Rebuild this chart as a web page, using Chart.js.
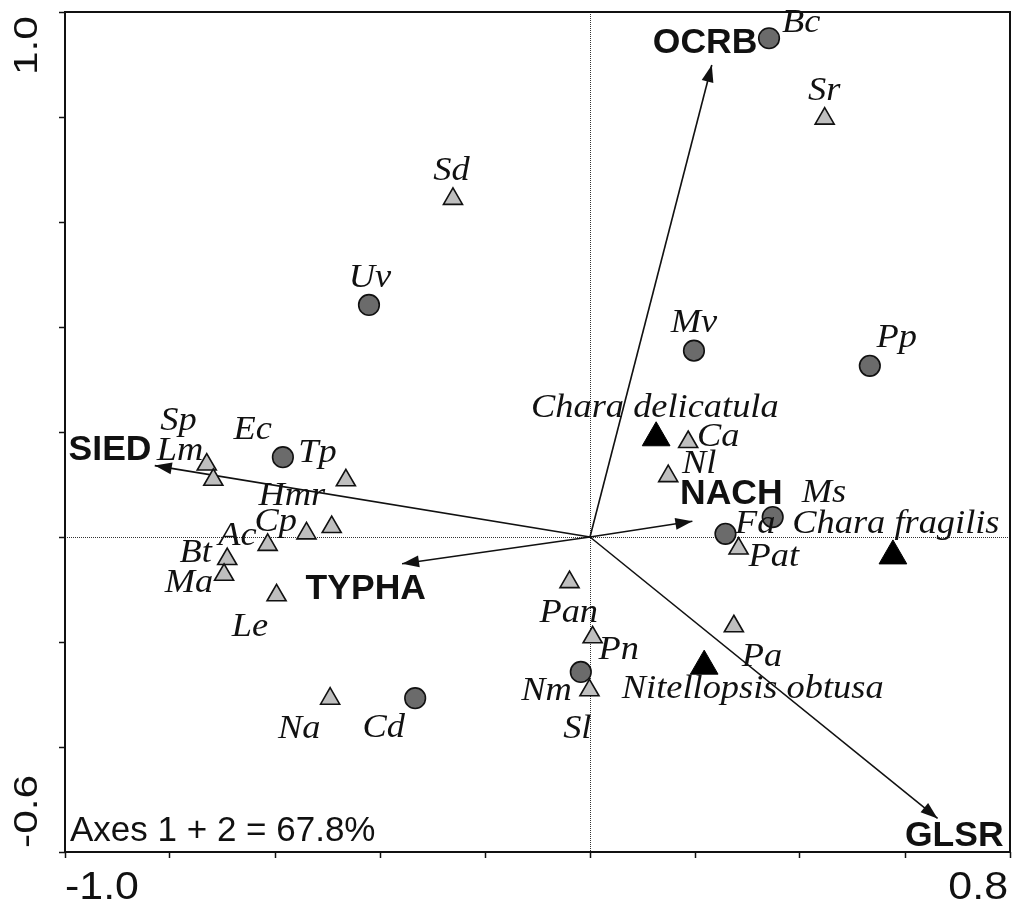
<!DOCTYPE html>
<html>
<head>
<meta charset="utf-8">
<script src="https://cdn.jsdelivr.net/npm/chart.js@4.4.1/dist/chart.umd.min.js"></script>
<style>
  html, body { margin: 0; padding: 0; background: #fff; }
  #wrap { width: 1012px; height: 904px; position: relative; }
</style>
</head>
<body>
<div id="wrap"><canvas id="biplot"></canvas></div>
<script>
// ---- Axis extent and tick labels ----
const xRange = [-1.0, 0.8];
const yRange = [-0.6, 1.0];
const tickStep = 0.2;
const xTickLabels = ['-1.0', '0.8'];
const yTickLabels = ['-0.6', '1.0'];
const varianceNote = 'Axes 1 + 2 = 67.8%';

// ---- Environmental variables (arrow tips from the origin) ----
const envNames = ['OCRB', 'SIED', 'TYPHA', 'NACH', 'GLSR'];
const envX = [0.232, -0.829, -0.358, 0.195, 0.662];
const envY = [0.899, 0.136, -0.051, 0.030, -0.536];

// ---- Species drawn as dark circles ----
const circleNames = ['Bc', 'Uv', 'Mv', 'Pp', 'Ec', 'Fa', 'Ms', 'Cd', 'Nm'];
const circleX = [0.341, -0.421, 0.198, 0.533, -0.585, 0.258, 0.348, -0.333, -0.0175];
const circleY = [0.950, 0.442, 0.355, 0.326, 0.152, 0.006, 0.038, -0.307, -0.257];

// ---- Species drawn as grey triangles ----
const triNames = ['Sr', 'Sd', 'Ca', 'Nl', 'Sp', 'Lm', 'Tp', 'Cp', 'Hmr', 'Ac', 'Bt', 'Ma', 'Le', 'Na', 'Pan', 'Pn', 'Sl', 'Pa', 'Pat'];
const triX = [0.447, -0.261, 0.187, 0.149, -0.730, -0.7175, -0.465, -0.540, -0.492, -0.614, -0.691, -0.697, -0.597, -0.495, -0.039, 0.005, -0.001, 0.274, 0.283];
const triY = [0.797, 0.644, 0.181, 0.116, 0.138, 0.109, 0.108, 0.007, 0.019, -0.015, -0.042, -0.072, -0.111, -0.308, -0.086, -0.191, -0.292, -0.170, -0.022];

// ---- Characean species drawn as black triangles ----
const charaNames = ['Chara delicatula', 'Chara fragilis', 'Nitellopsis obtusa'];
const charaX = [0.126, 0.577, 0.2175];
const charaY = [0.189, -0.036, -0.246];

// Label placement relative to each mark: [dx px, baseline dy px, alignment]
const labelPlacement = {
  Bc: [13, -6.3, 'left'], Uv: [1, -18.3, 'center'], Mv: [0, -18.8, 'center'],
  Pp: [6.7, -19.1, 'left'], Ec: [-11, -17.9, 'right'], Fa: [9.5, -0.5, 'left'],
  Ms: [29, -15, 'left'], Cd: [-10.2, 39, 'right'], Nm: [-9.1, 27.8, 'right'],
  Sr: [-0.5, -18.5, 'center'], Sd: [-1.5, -18.8, 'center'], Ca: [8.7, 3.7, 'left'],
  Nl: [13.7, -3.5, 'left'], Sp: [-10, -34.5, 'right'], Lm: [-10, -19.8, 'right'],
  Tp: [-9.3, -18.8, 'right'], Cp: [-9.6, -2.2, 'right'], Hmr: [-6.5, -22.2, 'right'],
  Ac: [-11.1, 0.2, 'right'], Bt: [-15.3, 2.9, 'right'], Ma: [-10.9, 16.9, 'right'],
  Le: [-26.7, 41.2, 'center'], Na: [-31, 39.5, 'center'], Pan: [-0.8, 39.5, 'center'],
  Pn: [5.8, 22.1, 'left'], Sl: [2, 47.8, 'right'], Pa: [7.9, 40.2, 'left'],
  Pat: [10, 17.9, 'left'],
  'Chara delicatula': [-1.3, -20.4, 'center'],
  'Chara fragilis': [3, -22.7, 'center'],
  'Nitellopsis obtusa': [48.5, 32.3, 'center'],
  OCRB: [-6.7, -11.7, 'center'], SIED: [-3.3, -5.7, 'right'],
  TYPHA: [-36.3, 34.8, 'center'], NACH: [-12.3, -17, 'left'], GLSR: [66, 27.7, 'right']
};

// font, horizontal stretch
const SERIF_ITALIC = ['italic 34px "Liberation Serif", "Times New Roman", serif', 1.07];
const SANS_BOLD = ['bold 35.5px "Liberation Sans", Arial, sans-serif', 1];
const SANS = ['35px "Liberation Sans", Arial, sans-serif', 1];
const X_TICK_FONT = ['39px "Liberation Sans", Arial, sans-serif', 1.1];
const Y_TICK_FONT = ['34px "Liberation Sans", Arial, sans-serif', 1.25];

const toPoints = (xs, ys) => xs.map((x, i) => ({ x, y: ys[i] }));

const arrowSets = envNames.map((name, i) => ({
  label: name,
  kind: 'env',
  data: [{ x: 0, y: 0 }, { x: envX[i], y: envY[i] }],
  showLine: true,
  borderColor: '#111',
  borderWidth: 1.6,
  pointRadius: 0,
  pointHoverRadius: 0
}));

const datasets = [
  {
    label: 'Characeae', kind: 'species', names: charaNames,
    data: toPoints(charaX, charaY),
    pointStyle: 'triangle', pointRadius: 16,
    backgroundColor: '#000', borderColor: '#000', borderWidth: 1
  },
  {
    label: 'Circles', kind: 'species', names: circleNames,
    data: toPoints(circleX, circleY),
    pointStyle: 'circle', pointRadius: 10.3,
    backgroundColor: '#6b6b6b', borderColor: '#111', borderWidth: 1.6
  },
  {
    label: 'Triangles', kind: 'species', names: triNames,
    data: toPoints(triX, triY),
    pointStyle: 'triangle', pointRadius: 11,
    backgroundColor: '#bfbfbf', borderColor: '#111', borderWidth: 1.6
  },
  ...arrowSets
];

// Draws text with an optional horizontal stretch and rotation.
function drawText(ctx, text, x, y, style, align, rotation) {
  ctx.save();
  ctx.translate(x, y);
  if (rotation) ctx.rotate(rotation);
  ctx.scale(style[1], 1);
  ctx.font = style[0];
  ctx.textAlign = align;
  ctx.textBaseline = 'alphabetic';
  ctx.fillStyle = '#111';
  ctx.fillText(text, 0, 0);
  ctx.restore();
}

const biplotDecor = {
  id: 'biplotDecor',
  beforeDatasetsDraw(chart) {
    const { ctx, chartArea: a, scales } = chart;
    const x0 = scales.x.getPixelForValue(0);
    const y0 = scales.y.getPixelForValue(0);
    ctx.save();
    ctx.strokeStyle = '#333';
    ctx.lineWidth = 1;
    ctx.setLineDash([1, 1]);
    ctx.beginPath();
    ctx.moveTo(Math.round(x0) + 0.5, a.top);
    ctx.lineTo(Math.round(x0) + 0.5, a.bottom);
    ctx.moveTo(a.left, Math.round(y0) + 0.5);
    ctx.lineTo(a.right, Math.round(y0) + 0.5);
    ctx.stroke();
    ctx.restore();
  },
  afterDatasetsDraw(chart) {
    const { ctx, chartArea: a, scales } = chart;
    ctx.save();
    // arrowheads and variable names
    chart.data.datasets.forEach((ds, di) => {
      const meta = chart.getDatasetMeta(di);
      if (ds.kind === 'env') {
        const p0 = meta.data[0], p1 = meta.data[1];
        const ang = Math.atan2(p1.y - p0.y, p1.x - p0.x);
        const len = 17, half = 6;
        ctx.fillStyle = '#111';
        ctx.beginPath();
        ctx.moveTo(p1.x, p1.y);
        ctx.lineTo(p1.x - len * Math.cos(ang) + half * Math.sin(ang), p1.y - len * Math.sin(ang) - half * Math.cos(ang));
        ctx.lineTo(p1.x - len * Math.cos(ang) - half * Math.sin(ang), p1.y - len * Math.sin(ang) + half * Math.cos(ang));
        ctx.closePath();
        ctx.fill();
        const pl = labelPlacement[ds.label];
        drawText(ctx, ds.label, p1.x + pl[0], p1.y + pl[1], SANS_BOLD, pl[2]);
      } else if (ds.kind === 'species') {
        ds.names.forEach((name, i) => {
          const el = meta.data[i];
          const pl = labelPlacement[name];
          drawText(ctx, name, el.x + pl[0], el.y + pl[1], SERIF_ITALIC, pl[2]);
        });
      }
    });
    // frame
    ctx.strokeStyle = '#111';
    ctx.lineWidth = 2;
    ctx.setLineDash([]);
    ctx.strokeRect(a.left, a.top, a.right - a.left, a.bottom - a.top);
    // extreme tick labels
    const xs = scales.x, ys = scales.y;
    drawText(ctx, xTickLabels[0], xs.getPixelForValue(xRange[0]), a.bottom + 47, X_TICK_FONT, 'left');
    drawText(ctx, xTickLabels[1], xs.getPixelForValue(xRange[1]) - 2, a.bottom + 47, X_TICK_FONT, 'right');
    drawText(ctx, yTickLabels[1], a.left - 28, ys.getPixelForValue(yRange[1]) + 4, Y_TICK_FONT, 'right', -Math.PI / 2);
    drawText(ctx, yTickLabels[0], a.left - 28, ys.getPixelForValue(yRange[0]) - 4, Y_TICK_FONT, 'left', -Math.PI / 2);
    // explained variance
    drawText(ctx, varianceNote, a.left + 5, a.bottom - 11, SANS, 'left');
    ctx.restore();
  }
};

const gridCommon = {
  drawOnChartArea: false,
  drawTicks: true,
  tickLength: 6,
  tickWidth: 1.5,
  tickColor: '#111'
};

new Chart(document.getElementById('biplot'), {
  type: 'scatter',
  data: { datasets },
  options: {
    responsive: true,
    maintainAspectRatio: false,
    animation: false,
    events: [],
    layout: { autoPadding: false, padding: { left: 59, top: 12, right: 2, bottom: 46 } },
    plugins: { legend: { display: false }, tooltip: { enabled: false } },
    scales: {
      x: {
        type: 'linear', min: xRange[0], max: xRange[1],
        ticks: { display: false, stepSize: tickStep },
        grid: gridCommon,
        border: { display: false }
      },
      y: {
        type: 'linear', min: yRange[0], max: yRange[1],
        ticks: { display: false, stepSize: tickStep },
        grid: gridCommon,
        border: { display: false }
      }
    }
  },
  plugins: [biplotDecor]
});
</script>
</body>
</html>
